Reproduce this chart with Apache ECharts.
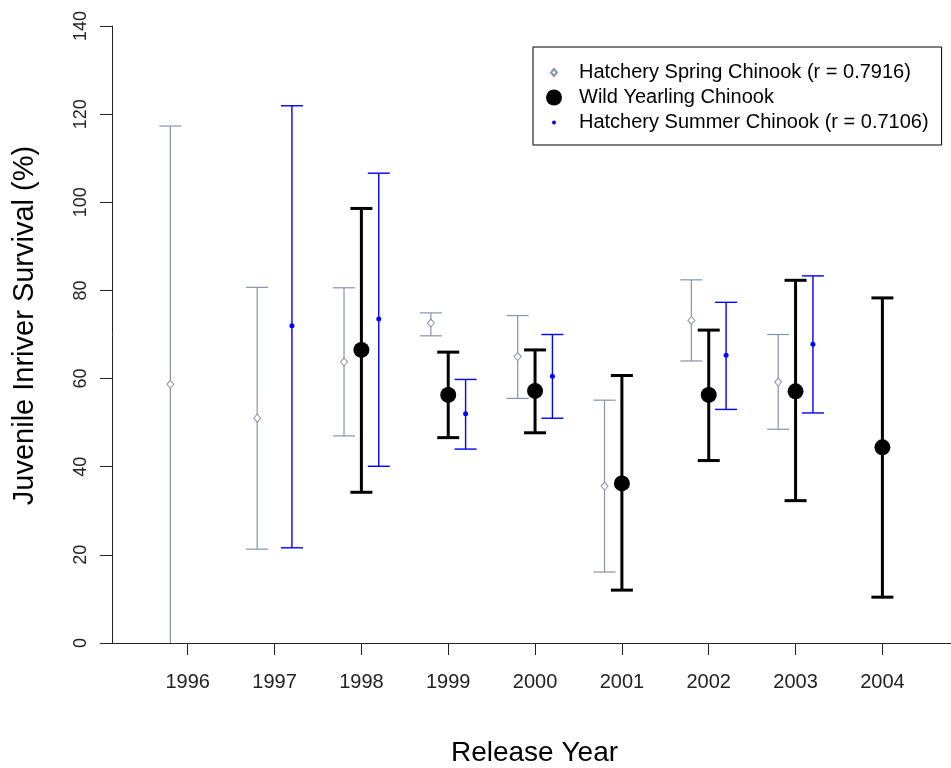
<!DOCTYPE html>
<html><head><meta charset="utf-8">
<script src="https://cdn.jsdelivr.net/npm/echarts@6/dist/echarts.min.js"></script>
<style>html,body{margin:0;padding:0;background:#fff}#c{width:951px;height:768px}</style>
</head><body><div id="c"></div>
<script>
const years = [1996, 1997, 1998, 1999, 2000, 2001, 2002, 2003, 2004];
const springMean = [58.7, 51.0, 63.8, 72.6, 65.0, 35.6, 73.2, 59.2, null];
const springLow  = [-2.0, 21.3, 47.0, 69.7, 55.5, 16.1, 64.0, 48.5, null];
const springHigh = [117.3, 80.7, 80.6, 74.9, 74.3, 55.1, 82.4, 70.0, null];
const wildMean = [null, null, 66.5, 56.3, 57.2, 36.2, 56.3, 57.1, 44.4];
const wildLow  = [null, null, 34.2, 46.6, 47.7, 12.0, 41.4, 32.3, 10.4];
const wildHigh = [null, null, 98.6, 66.0, 66.5, 60.7, 71.0, 82.3, 78.3];
const summerMean = [null, 72.0, 73.5, 52.0, 60.5, null, 65.3, 67.8, null];
const summerLow  = [null, 21.6, 40.1, 44.0, 51.0, null, 53.0, 52.2, null];
const summerHigh = [null, 121.9, 106.6, 59.8, 70.0, null, 77.3, 83.3, null];
const yTicks = [0, 20, 40, 60, 80, 100, 120, 140];

const springName = 'Hatchery Spring Chinook (r = 0.7916)';
const wildName = 'Wild Yearling Chinook';
const summerName = 'Hatchery Summer Chinook (r = 0.7106)';

const FONT = '"Liberation Sans", Arial, sans-serif';
const GRAY = '#8593a8';
const BLUE = '#0000ff';
const BLACK = '#000000';
const AXIS = '#222222';

function pts(mean, off) {
  const out = [];
  years.forEach((y, i) => { if (mean[i] != null) out.push([y + off, mean[i]]); });
  return out;
}
function bars(low, high, off) {
  const out = [];
  years.forEach((y, i) => { if (low[i] != null) out.push([y + off, low[i], high[i]]); });
  return out;
}
function errRender(color, width, capHalf) {
  return function (params, api) {
    const x = api.value(0), lo = api.value(1), hi = api.value(2);
    const pLo = api.coord([x, lo]), pHi = api.coord([x, hi]);
    const style = { stroke: color, lineWidth: width, fill: null };
    return {
      type: 'group',
      children: [
        { type: 'line', shape: { x1: pLo[0], y1: pLo[1], x2: pHi[0], y2: pHi[1] }, style: style },
        { type: 'line', shape: { x1: pLo[0] - capHalf, y1: pLo[1], x2: pLo[0] + capHalf, y2: pLo[1] }, style: style },
        { type: 'line', shape: { x1: pHi[0] - capHalf, y1: pHi[1], x2: pHi[0] + capHalf, y2: pHi[1] }, style: style }
      ]
    };
  };
}

const OFF = 0.2;
const chart = echarts.init(document.getElementById('c'), null, { renderer: 'canvas' });
chart.setOption({
  animation: false,
  backgroundColor: '#fff',
  grid: { left: 112, right: 0, top: 26, bottom: 125, containLabel: false, outerBoundsMode: 'none' },
  legend: {
    orient: 'vertical', left: 533, top: 47, padding: [15, 13, 12, 12], itemGap: 4,
    itemWidth: 28, itemHeight: 16, borderColor: '#000', borderWidth: 1, borderRadius: 0,
    backgroundColor: '#fff', selectedMode: false,
    textStyle: { fontFamily: FONT, fontSize: 20, color: '#000', lineHeight: 21 },
    data: [
      { name: springName, icon: 'path://M0,0M28,16M8,4.5L11,8L8,11.5L5,8Z' },
      { name: wildName, icon: 'path://M0,0M28,16M16,8A8,8,0,1,1,0,8A8,8,0,1,1,16,8Z' },
      { name: summerName, icon: 'path://M0,0M28,16M10,8A2,2,0,1,1,6,8A2,2,0,1,1,10,8Z' }
    ]
  },
  xAxis: {
    type: 'value', min: 1995.128, max: 2004.79,
    axisLine: { show: true, onZero: false, lineStyle: { color: AXIS, width: 1 } },
    axisTick: { show: true, length: 12, customValues: years, lineStyle: { color: AXIS, width: 1 } },
    axisLabel: { customValues: years, margin: 29, fontSize: 20, color: '#222', fontFamily: FONT,
      formatter: function (v) { return String(Math.round(v)); } },
    splitLine: { show: false },
    name: 'Release Year', nameLocation: 'middle', nameGap: 96,
    nameTextStyle: { fontSize: 28, color: '#000', fontFamily: FONT, padding: [0, 0, 0, 6] }
  },
  yAxis: {
    type: 'value', min: 0, max: 140, interval: 20,
    axisLine: { show: true, onZero: false, lineStyle: { color: AXIS, width: 1 } },
    axisTick: { show: true, length: 12, lineStyle: { color: AXIS, width: 1 } },
    axisLabel: { rotate: 90, margin: 22, fontSize: 18, color: '#222', fontFamily: FONT,
      customValues: yTicks, formatter: function (v) { return String(v); } },
    splitLine: { show: false },
    name: 'Juvenile Inriver Survival (%)', nameLocation: 'middle', nameGap: 73,
    nameTextStyle: { fontSize: 29, color: '#000', fontFamily: FONT, padding: [0, 0, 0, 18] }
  },
  series: [
    { type: 'custom', name: 'springErr', clip: true, z: 2, renderItem: errRender(GRAY, 1.2, 11), data: bars(springLow, springHigh, -OFF) },
    { type: 'custom', name: 'wildErr', clip: true, z: 2, renderItem: errRender(BLACK, 3, 11), data: bars(wildLow, wildHigh, 0) },
    { type: 'custom', name: 'summerErr', clip: true, z: 2, renderItem: errRender(BLUE, 1.4, 11), data: bars(summerLow, summerHigh, OFF) },
    { type: 'scatter', name: springName, symbol: 'diamond', symbolSize: [7, 8], z: 5,
      itemStyle: { color: '#fff', borderColor: GRAY, borderWidth: 1, opacity: 1 }, data: pts(springMean, -OFF) },
    { type: 'scatter', name: wildName, symbol: 'circle', symbolSize: 16, z: 5,
      itemStyle: { color: BLACK, opacity: 1 }, data: pts(wildMean, 0) },
    { type: 'scatter', name: summerName, symbol: 'circle', symbolSize: 5, z: 5,
      itemStyle: { color: BLUE, opacity: 1 }, data: pts(summerMean, OFF) }
  ]
});
</script>
</body></html>
